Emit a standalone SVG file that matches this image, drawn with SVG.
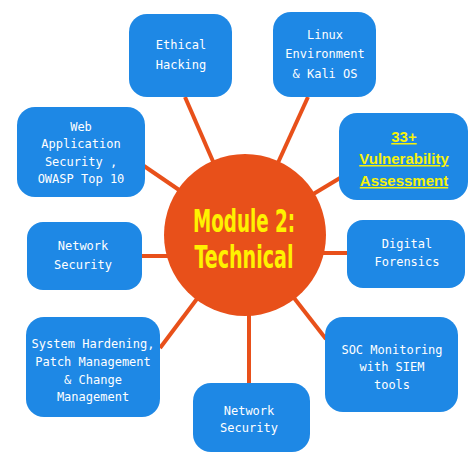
<svg xmlns="http://www.w3.org/2000/svg" width="474" height="474" viewBox="0 0 474 474">
<style>
.box{fill:#1E88E5;}
.t{font-family:"DejaVu Sans Mono",monospace;font-size:12px;fill:#ffffff;text-anchor:middle;}
.hl{font-family:"Liberation Sans",Arial,sans-serif;font-size:15px;font-weight:bold;fill:#F7F20A;text-anchor:middle;text-decoration:underline;}
.c{stroke:#E8501A;stroke-width:4;stroke-linecap:butt;}
.ct{font-family:"DejaVu Sans Condensed","DejaVu Sans",sans-serif;font-weight:bold;font-size:32px;fill:#FFF200;text-anchor:middle;}
</style>
<rect width="474" height="474" fill="#ffffff"/>
<g id="connectors">
<line class="c" x1="245" y1="235" x2="185" y2="97"/>
<line class="c" x1="245" y1="235" x2="308" y2="97"/>
<line class="c" x1="245" y1="235" x2="340" y2="178"/>
<line class="c" x1="245" y1="235" x2="144" y2="166"/>
<line class="c" x1="245" y1="256" x2="142" y2="256"/>
<line class="c" x1="245" y1="253" x2="347" y2="253"/>
<line class="c" x1="245" y1="235" x2="160" y2="348"/>
<line class="c" x1="249" y1="235" x2="249" y2="383"/>
<line class="c" x1="245" y1="235" x2="326" y2="339"/>
</g>
<g id="center">
<circle cx="245" cy="235" r="81" fill="#E8501A"/>
<text class="ct" x="244" y="232" textLength="102" lengthAdjust="spacingAndGlyphs">Module 2:</text>
<text class="ct" x="244" y="268" textLength="99" lengthAdjust="spacingAndGlyphs">Technical</text>
</g>
<g id="ethical">
<rect class="box" x="129" y="14" width="103" height="83" rx="18"/>
<text class="t" x="181" y="49">Ethical</text>
<text class="t" x="181" y="69">Hacking</text>
</g>
<g id="linux">
<rect class="box" x="273" y="12" width="103" height="85" rx="18"/>
<text class="t" x="325" y="39">Linux</text>
<text class="t" x="325" y="58">Environment</text>
<text class="t" x="325" y="78">&amp; Kali OS</text>
</g>
<g id="vuln">
<rect class="box" x="339" y="113" width="129" height="87" rx="18"/>
<text class="hl" x="404" y="142">33+</text>
<text class="hl" x="404" y="164">Vulnerability</text>
<text class="hl" x="404" y="186">Assessment</text>
</g>
<g id="webapp">
<rect class="box" x="17" y="107" width="128" height="90" rx="18"/>
<text class="t" x="81" y="131">Web</text>
<text class="t" x="81" y="148">Application</text>
<text class="t" x="81" y="166">Security ,</text>
<text class="t" x="81" y="183">OWASP Top 10</text>
</g>
<g id="netleft">
<rect class="box" x="27" y="222" width="115" height="68" rx="16"/>
<text class="t" x="83" y="250">Network</text>
<text class="t" x="83" y="269">Security</text>
</g>
<g id="digital">
<rect class="box" x="347" y="220" width="118" height="68" rx="16"/>
<text class="t" x="407" y="248">Digital</text>
<text class="t" x="407" y="266">Forensics</text>
</g>
<g id="system">
<rect class="box" x="26" y="317" width="134" height="100" rx="18"/>
<text class="t" x="93" y="348">System Hardening,</text>
<text class="t" x="93" y="366">Patch Management</text>
<text class="t" x="93" y="384">&amp; Change</text>
<text class="t" x="93" y="401">Management</text>
</g>
<g id="netbottom">
<rect class="box" x="193" y="383" width="117" height="69" rx="18"/>
<text class="t" x="249" y="415">Network</text>
<text class="t" x="249" y="432">Security</text>
</g>
<g id="soc">
<rect class="box" x="325" y="317" width="133" height="95" rx="18"/>
<text class="t" x="392" y="354">SOC Monitoring</text>
<text class="t" x="392" y="371">with SIEM</text>
<text class="t" x="392" y="389">tools</text>
</g>
</svg>
